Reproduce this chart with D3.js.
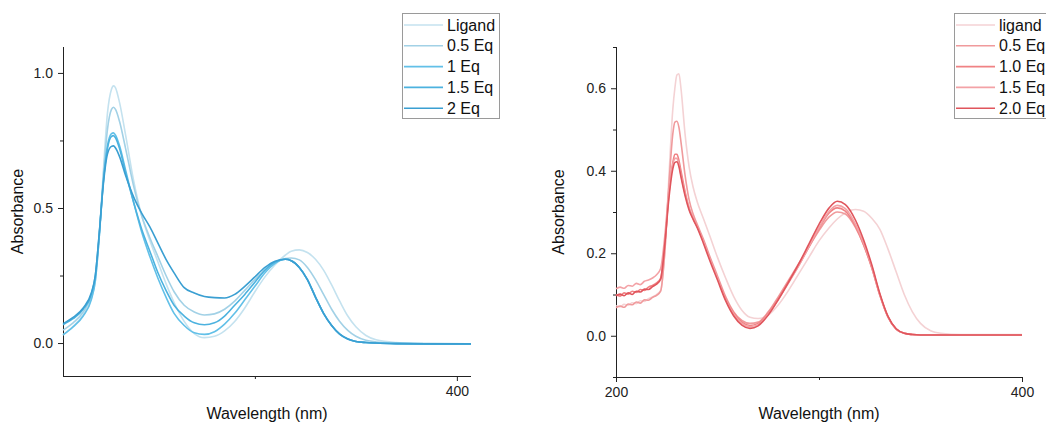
<!DOCTYPE html>
<html>
<head>
<meta charset="utf-8">
<script src="https://cdn.jsdelivr.net/npm/d3@7"></script>
<style>
  body { margin: 0; background: #fff; }
  svg { font-family: Arial, "Liberation Sans", sans-serif; }
</style>
</head>
<body>
<div id="chart-area"></div>
<script>
// ---- left panel data (blue) ----
var leftNames = ["Ligand", "0.5 Eq", "1 Eq", "1.5 Eq", "2 Eq"];
var leftColors = ["#c4e2ef", "#a2d1e6", "#62c0e8", "#4cb2df", "#3a9fd2"];
var leftNm = [205, 210, 215, 219, 221, 223, 225, 227, 229, 230, 231, 233, 236, 240, 244, 248, 252, 256, 260, 265, 270, 275, 280, 285, 290, 295, 300, 305, 310, 315, 318, 322, 326, 330, 334, 338, 342, 346, 350, 355, 360, 370, 385, 407];
var leftLigand = [0.030, 0.062, 0.105, 0.165, 0.23, 0.40, 0.64, 0.85, 0.94, 0.952, 0.945, 0.89, 0.77, 0.60, 0.47, 0.38, 0.30, 0.22, 0.15, 0.08, 0.035, 0.02, 0.025, 0.045, 0.08, 0.13, 0.19, 0.245, 0.29, 0.325, 0.34, 0.345, 0.335, 0.31, 0.27, 0.215, 0.155, 0.10, 0.06, 0.028, 0.012, 0.002, -0.002, -0.003];
var left05 = [0.048, 0.075, 0.115, 0.175, 0.24, 0.40, 0.62, 0.79, 0.865, 0.873, 0.865, 0.82, 0.72, 0.58, 0.47, 0.39, 0.32, 0.25, 0.19, 0.14, 0.115, 0.104, 0.108, 0.125, 0.155, 0.195, 0.235, 0.27, 0.298, 0.313, 0.315, 0.308, 0.28, 0.235, 0.18, 0.125, 0.08, 0.047, 0.025, 0.01, 0.004, 0.0, -0.002, -0.003];
var left1 = [0.03, 0.06, 0.10, 0.16, 0.23, 0.40, 0.60, 0.73, 0.775, 0.778, 0.77, 0.73, 0.64, 0.52, 0.41, 0.32, 0.24, 0.17, 0.11, 0.065, 0.038, 0.032, 0.042, 0.07, 0.11, 0.16, 0.21, 0.26, 0.295, 0.31, 0.305, 0.28, 0.235, 0.17, 0.11, 0.065, 0.033, 0.015, 0.006, 0.002, 0.0, -0.002, -0.003, -0.003];
var left15 = [0.068, 0.09, 0.125, 0.18, 0.25, 0.41, 0.60, 0.72, 0.765, 0.768, 0.76, 0.72, 0.63, 0.52, 0.42, 0.34, 0.26, 0.195, 0.14, 0.10, 0.075, 0.068, 0.075, 0.10, 0.14, 0.18, 0.225, 0.27, 0.30, 0.31, 0.305, 0.28, 0.235, 0.17, 0.11, 0.065, 0.033, 0.015, 0.006, 0.002, 0.0, -0.002, -0.003, -0.003];
var left2 = [0.072, 0.095, 0.13, 0.185, 0.25, 0.41, 0.59, 0.70, 0.728, 0.73, 0.722, 0.69, 0.62, 0.54, 0.48, 0.43, 0.37, 0.31, 0.26, 0.205, 0.185, 0.172, 0.168, 0.167, 0.18, 0.21, 0.245, 0.28, 0.303, 0.31, 0.305, 0.28, 0.235, 0.17, 0.11, 0.065, 0.033, 0.015, 0.006, 0.002, 0.0, -0.002, -0.003, -0.003];

// ---- right panel data (red) ----
var rightNames = ["ligand", "0.5 Eq", "1.0 Eq", "1.5 Eq", "2.0 Eq"];
var rightColors = ["#f4d2d4", "#f09a9c", "#f08284", "#f3a2a6", "#e0555c"];
var rightNm = [200, 202, 204, 206, 208, 210, 212, 214, 216, 218, 220, 222, 224, 226, 228, 229, 230, 231, 232, 234, 236, 238, 240, 243, 246, 250, 254, 258, 262, 266, 270, 275, 280, 285, 290, 295, 300, 305, 309, 313, 318, 322, 326, 330, 334, 338, 342, 346, 350, 355, 360, 370, 385, 400];
var rightLigand = [0.073, 0.070, 0.076, 0.074, 0.080, 0.078, 0.085, 0.083, 0.090, 0.094, 0.100, 0.110, 0.20, 0.38, 0.55, 0.60, 0.632, 0.635, 0.60, 0.49, 0.41, 0.36, 0.325, 0.285, 0.245, 0.19, 0.14, 0.095, 0.062, 0.045, 0.042, 0.05, 0.075, 0.11, 0.15, 0.19, 0.23, 0.262, 0.283, 0.298, 0.306, 0.302, 0.285, 0.258, 0.21, 0.155, 0.10, 0.058, 0.03, 0.012, 0.006, 0.003, 0.003, 0.003];
var right05 = [0.068, 0.072, 0.069, 0.077, 0.075, 0.082, 0.079, 0.087, 0.086, 0.093, 0.098, 0.108, 0.20, 0.36, 0.49, 0.518, 0.52, 0.505, 0.47, 0.39, 0.33, 0.295, 0.27, 0.235, 0.195, 0.145, 0.095, 0.058, 0.037, 0.03, 0.033, 0.058, 0.095, 0.135, 0.175, 0.215, 0.255, 0.288, 0.30, 0.295, 0.262, 0.22, 0.165, 0.098, 0.045, 0.016, 0.006, 0.003, 0.002, 0.002, 0.002, 0.002, 0.002, 0.002];
var right10 = [0.100, 0.096, 0.104, 0.101, 0.108, 0.105, 0.112, 0.110, 0.118, 0.122, 0.128, 0.14, 0.22, 0.34, 0.42, 0.44, 0.44, 0.425, 0.40, 0.35, 0.31, 0.285, 0.265, 0.23, 0.19, 0.14, 0.09, 0.055, 0.033, 0.025, 0.03, 0.055, 0.09, 0.13, 0.17, 0.215, 0.26, 0.298, 0.31, 0.302, 0.265, 0.22, 0.165, 0.098, 0.045, 0.016, 0.006, 0.003, 0.002, 0.002, 0.002, 0.002, 0.002, 0.002];
var right15 = [0.114, 0.118, 0.115, 0.122, 0.120, 0.127, 0.124, 0.132, 0.135, 0.140, 0.148, 0.163, 0.24, 0.35, 0.415, 0.43, 0.43, 0.415, 0.39, 0.345, 0.31, 0.285, 0.265, 0.23, 0.19, 0.14, 0.088, 0.052, 0.03, 0.022, 0.027, 0.052, 0.088, 0.128, 0.17, 0.216, 0.262, 0.302, 0.316, 0.308, 0.27, 0.225, 0.168, 0.10, 0.046, 0.016, 0.006, 0.003, 0.002, 0.002, 0.002, 0.002, 0.002, 0.002];
var right20 = [0.097, 0.101, 0.097, 0.104, 0.100, 0.108, 0.106, 0.113, 0.112, 0.119, 0.125, 0.137, 0.22, 0.33, 0.405, 0.42, 0.422, 0.41, 0.385, 0.34, 0.305, 0.282, 0.262, 0.225, 0.185, 0.135, 0.085, 0.048, 0.026, 0.018, 0.024, 0.05, 0.088, 0.13, 0.174, 0.222, 0.27, 0.31, 0.326, 0.318, 0.28, 0.232, 0.172, 0.102, 0.047, 0.017, 0.006, 0.003, 0.002, 0.002, 0.002, 0.002, 0.002, 0.002];

var leftYMajor = [0, 0.5, 1.0];
var leftYMinor = [0.25, 0.75];
var leftXMajor = [400];
var leftXMinor = [300];
var rightYMajor = [0, 0.2, 0.4, 0.6];
var rightYMinor = [-0.1, 0.1, 0.3, 0.5, 0.7];
var rightXMajor = [200, 400];
var rightXMinor = [300];

var svg = d3.select("#chart-area")
    .append("svg")
    .attr("width", 1046)
    .attr("height", 427);

function drawPanel(p) {
    var x = d3.scaleLinear().domain(p.xDomain).range([p.left, p.right]);
    var y = d3.scaleLinear().domain(p.yDomain).range([p.bottom, p.top]);

    // minor ticks first, then major ticks with labels
    svg.append("g")
        .attr("transform", "translate(" + p.left + ",0)")
        .call(d3.axisLeft(y).tickValues(p.yMinor).tickSize(3).tickSizeOuter(0).tickFormat(""))
        .call(g => g.select(".domain").remove());
    var yAxis = svg.append("g")
        .attr("transform", "translate(" + p.left + ",0)")
        .call(d3.axisLeft(y).tickValues(p.yMajor).tickSize(5).tickSizeOuter(0).tickPadding(5).tickFormat(d3.format(".1f")));
    yAxis.select(".domain").attr("d", "M0.5," + p.top + "V" + (p.bottom + 0.5));

    svg.append("g")
        .attr("transform", "translate(0," + p.bottom + ")")
        .call(d3.axisBottom(x).tickValues(p.xMinor).tickSize(3).tickSizeOuter(0).tickFormat(""))
        .call(g => g.select(".domain").remove());
    var xAxis = svg.append("g")
        .attr("transform", "translate(0," + p.bottom + ")")
        .call(d3.axisBottom(x).tickValues(p.xMajor).tickSize(5).tickSizeOuter(0).tickPadding(5).tickFormat(d3.format("d")));
    xAxis.select(".domain").attr("d", "M" + p.left + ",0.5H" + p.right);

    svg.selectAll(".tick text").attr("font-size", "14px").attr("fill", "#222")
        .attr("font-family", "Arial, 'Liberation Sans', sans-serif");
    svg.selectAll(".domain, .tick line").attr("stroke", "#222");

    // y label
    svg.append("text")
        .attr("transform", "rotate(-90)")
        .attr("x", -(p.top + p.bottom) / 2)
        .attr("y", p.yLabelX)
        .attr("text-anchor", "middle")
        .attr("font-size", "16px")
        .attr("fill", "#111")
        .text("Absorbance");

    svg.append("text")
        .attr("x", (p.left + p.right) / 2)
        .attr("y", 419)
        .attr("text-anchor", "middle")
        .attr("font-size", "16px")
        .attr("fill", "#111")
        .text("Wavelength (nm)");

    var line = d3.line()
        .x((d, i) => x(p.nm[i]))
        .y(d => y(d))
        .curve(d3.curveMonotoneX);

    var clip = svg.append("g");
    p.series.forEach((s, i) => {
        clip.append("path")
            .attr("d", line(s))
            .attr("fill", "none")
            .attr("stroke", p.colors[i])
            .attr("stroke-width", 1.6);
    });

    // legend
    var lg = svg.append("g");
    lg.append("rect")
        .attr("x", p.legX + 0.5)
        .attr("y", 13.5)
        .attr("width", p.legW)
        .attr("height", 105)
        .attr("fill", "#fff")
        .attr("stroke", "#9a9a9a");
    p.names.forEach((n, i) => {
        var cy = 25 + i * 20.8;
        lg.append("line")
            .attr("x1", p.legX + 2).attr("x2", p.legX + 41)
            .attr("y1", cy).attr("y2", cy)
            .attr("stroke", p.colors[i])
            .attr("stroke-width", 1.6);
        lg.append("text")
            .attr("x", p.legX + 45)
            .attr("y", cy + 5.5)
            .attr("font-size", "16px")
            .attr("fill", "#111")
            .text(n);
    });
}

drawPanel({
    left: 63, right: 471, top: 47, bottom: 376,
    xDomain: [205, 407], yDomain: [-0.122, 1.096],
    yMajor: leftYMajor, yMinor: leftYMinor, xMajor: leftXMajor, xMinor: leftXMinor,
    yLabelX: 23, nm: leftNm,
    series: [leftLigand, left05, left1, left15, left2],
    names: leftNames, colors: leftColors,
    legX: 402, legW: 97
});

drawPanel({
    left: 616, right: 1022, top: 47, bottom: 377,
    xDomain: [200, 400], yDomain: [-0.1, 0.7],
    yMajor: rightYMajor, yMinor: rightYMinor, xMajor: rightXMajor, xMinor: rightXMinor,
    yLabelX: 564, nm: rightNm,
    series: [rightLigand, right05, right10, right15, right20],
    names: rightNames, colors: rightColors,
    legX: 954, legW: 110
});
</script>
</body>
</html>
